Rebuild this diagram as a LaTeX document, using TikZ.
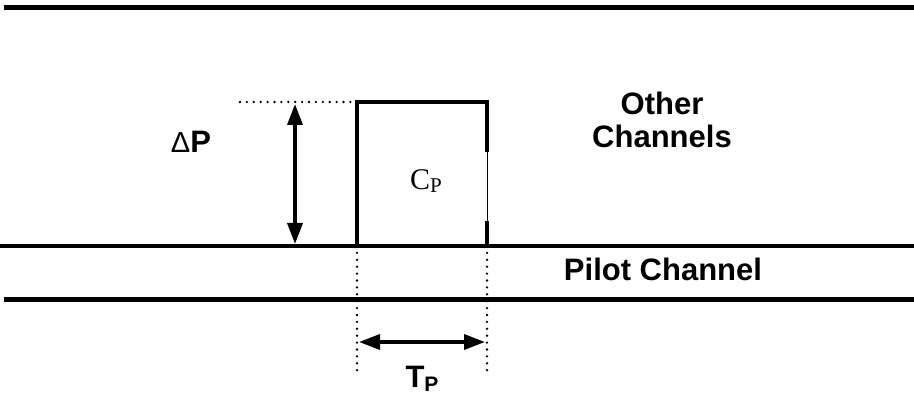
\documentclass[tikz,border=0pt]{standalone}
\usepackage{fontspec}
\setmainfont{Liberation Sans}
\newfontfamily\timesf{Liberation Serif}
\usetikzlibrary{arrows.meta}
\tikzset{
  thickline/.style={line width=5pt},
  boxline/.style={line width=4pt, line cap=rect},
  dotline/.style={line width=2.6pt, line cap=round, dash pattern=on 0pt off 6.9pt},
  dimarrow/.style={line width=3.5pt, {Triangle[length=21pt,width=15pt]}-{Triangle[length=21pt,width=15pt]}},
  lbl/.style={font=\fontsize{31}{35}\selectfont\bfseries, align=center, inner sep=0pt}
}
\begin{document}
\begin{tikzpicture}[x=1pt,y=-1pt]
\useasboundingbox (0,0) rectangle (914,398);
% channel lines
\coordinate (t1) at (4,7.5);  \coordinate (t2) at (914,7.5);
\coordinate (m1) at (0,246.5);  \coordinate (m2) at (914,246.5);
\coordinate (b1) at (4,299.5); \coordinate (b2) at (914,299.5);
\draw[thickline] (t1) -- (t2);
\draw[line width=4pt] (m1) -- (m2);
\draw[thickline] (b1) -- (b2);
% pilot box
\coordinate (bl) at (357,246);
\coordinate (tl) at (357,102);
\coordinate (tr) at (487,102);
\coordinate (g1) at (487,150);
\coordinate (g2) at (487,223);
\coordinate (br) at (487,246);
\draw[boxline] (bl) -- (tl) -- (tr) -- (g1);
\draw[line width=1pt] (g1) -- (g2);
\draw[boxline] (g2) -- (br);
% dotted guides
\coordinate (d0) at (240,102);
\draw[dotline] (d0) -- (tl);
\coordinate (ld) at (357,374);
\coordinate (rd) at (487,374);
\draw[dotline] (bl) -- (ld);
\draw[dotline] (br) -- (rd);
% dimension arrows
\coordinate (va) at (295,104);
\coordinate (vb) at (295,244);
\draw[dimarrow] (va) -- (vb);
\coordinate (ha) at (359,342);
\coordinate (hb) at (485,342);
\draw[dimarrow] (ha) -- (hb);
% labels
\node[lbl, anchor=base] (dp) at (191,153) {{\fontsize{29}{32}\selectfont\mdseries Δ}P};
\node[inner sep=0pt, anchor=base] (cp) at (426,190) {\timesf\fontsize{30}{34}\selectfont C\raisebox{-0.1em}{\fontsize{21}{24}\selectfont P}};
\node[lbl, anchor=base] (oc) at (662,148) {Other\\[-2pt]Channels};
\node[lbl, anchor=base] (pc) at (663,281) {Pilot Channel};
\node[lbl, anchor=base] (tp) at (422,388) {T\raisebox{-0.1em}{\fontsize{21}{24}\selectfont P}};
\end{tikzpicture}
\end{document}
